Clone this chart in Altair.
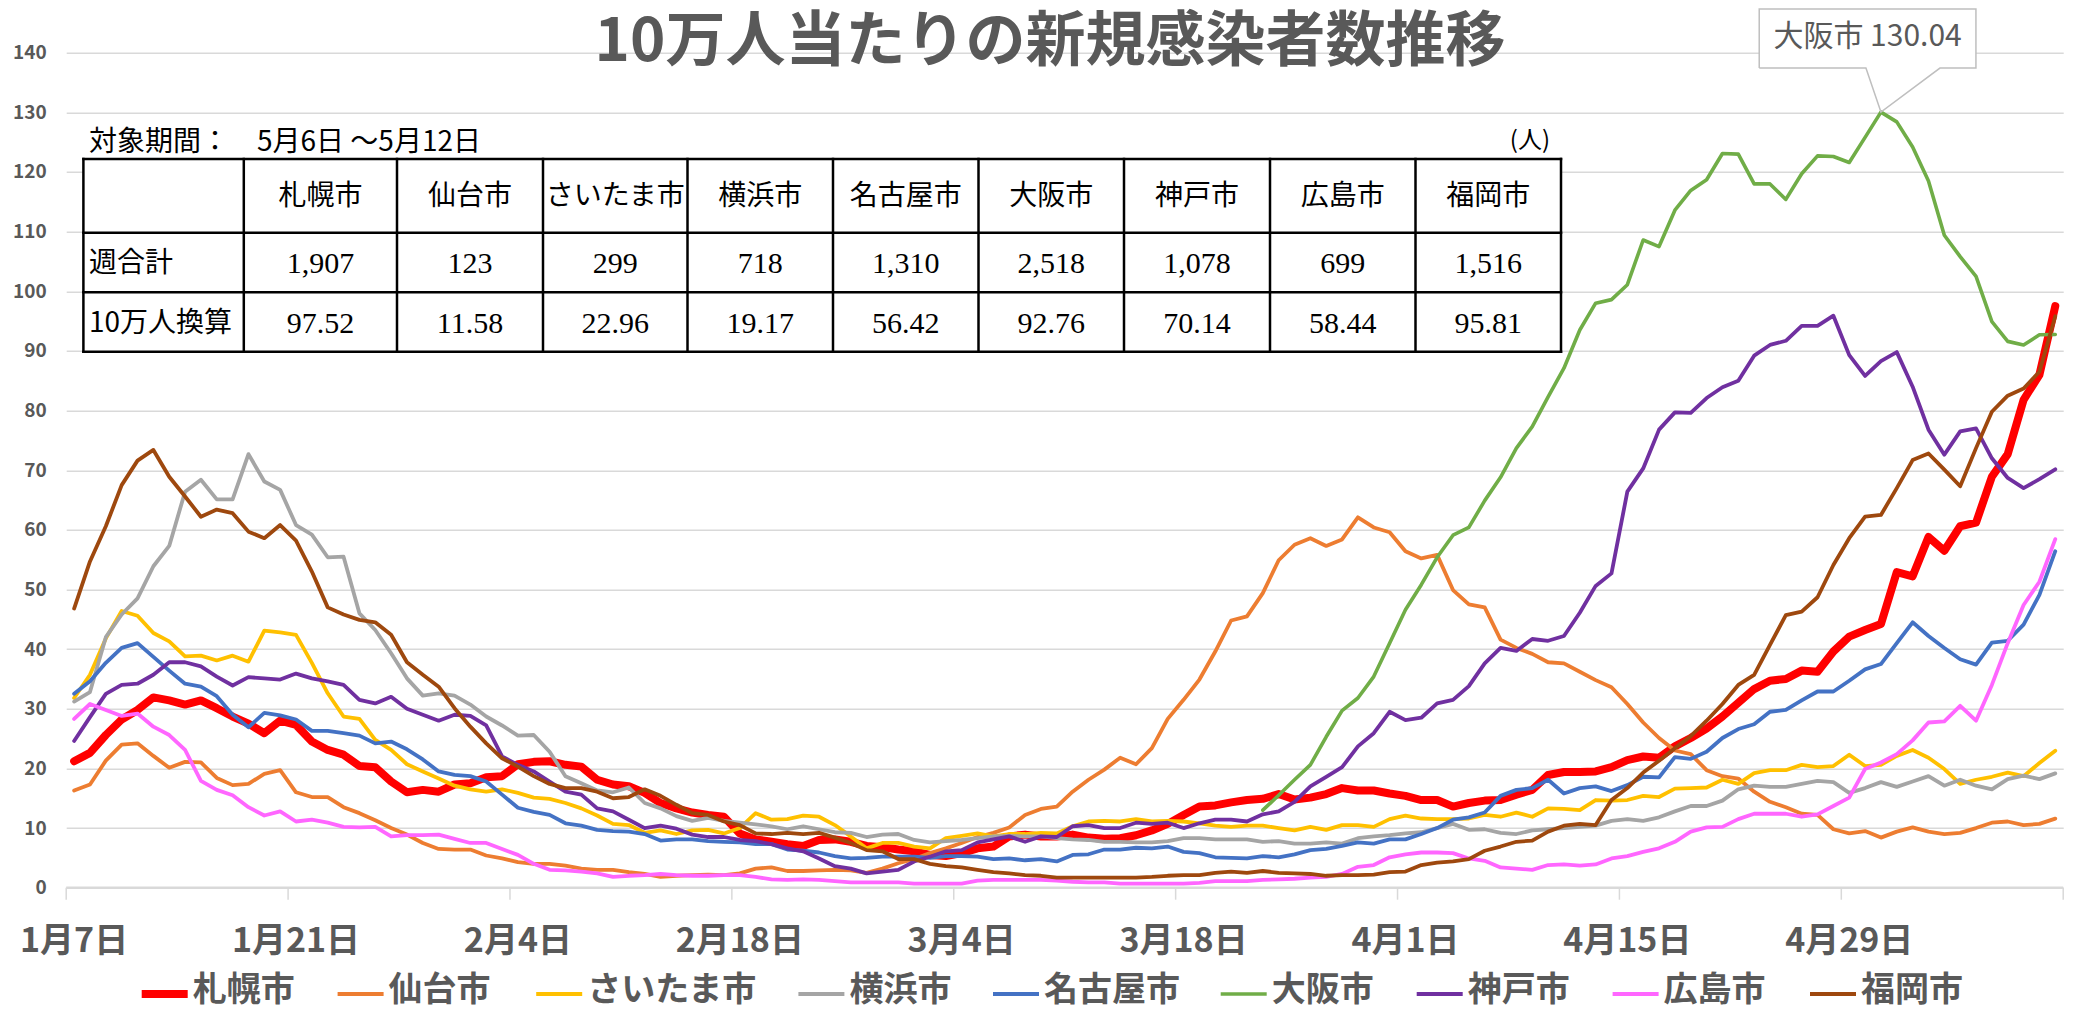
import altair as alt
import pandas as pd

# ---------------- data ----------------
TITLE = "10万人当たりの新規感染者数推移"
CITIES = ["札幌市", "仙台市", "さいたま市", "横浜市", "名古屋市", "大阪市", "神戸市", "広島市", "福岡市"]
COLORS = ["#FF0000", "#ED7D31", "#FFC000", "#A5A5A5", "#4472C4", "#70AD47", "#7030A0", "#FF66FF", "#9E480E"]
LINE_WIDTHS = [8, 3.8, 3.8, 3.8, 3.8, 3.6, 3.8, 3.8, 3.8]

N_DAYS = 126  # 1月7日 .. 5月12日
TICK_DAYS = [0, 14, 28, 42, 56, 70, 84, 98, 112]
TICK_LABELS = ["1月7日", "1月21日", "2月4日", "2月18日", "3月4日", "3月18日", "4月1日", "4月15日", "4月29日"]
Y_TICKS = [0, 10, 20, 30, 40, 50, 60, 70, 80, 90, 100, 110, 120, 130, 140]

SAPPORO = [21.2, 22.6, 25.6, 28.2, 29.8, 31.9, 31.4, 30.7, 31.4, 30.1, 28.7, 27.5, 25.9, 28.0, 27.3, 24.5,
           23.1, 22.3, 20.4, 20.2, 17.8, 16.0, 16.4, 16.1, 17.3, 17.5, 18.5, 18.7, 20.7, 21.1, 21.2, 20.6,
           20.3, 18.1, 17.3, 17.0, 15.9, 14.2, 13.3, 12.6, 12.2, 11.9, 9.1, 8.1, 7.7, 7.3, 7.0, 8.0,
           8.1, 7.7, 7.0, 6.8, 6.4, 6.1, 5.5, 5.3, 5.8, 6.6, 6.9, 8.6, 8.9, 8.6, 8.6, 8.9, 8.4, 8.2,
           8.3, 8.8, 9.6, 10.7, 12.2, 13.6, 13.8, 14.3, 14.7, 14.9, 15.7, 14.8, 15.1, 15.7, 16.7, 16.3,
           16.3, 15.8, 15.4, 14.7, 14.7, 13.6, 14.2, 14.6, 14.7, 15.6, 16.4, 18.9, 19.4, 19.4, 19.5, 20.2,
           21.4, 22.0, 21.8, 23.7, 25.1, 26.7, 28.7, 31.0, 33.3, 34.7, 35.0, 36.4, 36.2, 39.6, 42.1, 43.2,
           44.2, 52.9, 52.2, 58.8, 56.5, 60.6, 61.2, 68.9, 72.7, 81.8, 86.0, 97.52]
SENDAI = [16.3, 17.3, 21.3, 24.0, 24.2, 22.1, 20.1, 21.1, 21.0, 18.4, 17.2, 17.4, 19.1, 19.7, 16.0, 15.2,
          15.2, 13.5, 12.5, 11.3, 10.0, 8.9, 7.5, 6.5, 6.4, 6.4, 5.4, 4.9, 4.3, 4.0, 4.0, 3.7,
          3.2, 3.0, 3.0, 2.6, 2.3, 1.8, 2.0, 2.1, 2.2, 2.1, 2.4, 3.2, 3.4, 2.8, 2.8, 2.9,
          3.0, 2.9, 2.5, 3.2, 4.1, 4.8, 5.8, 6.6, 7.5, 8.5, 9.2, 10.1, 12.2, 13.2, 13.6, 16.1, 18.1, 19.8,
          21.8, 20.7, 23.4, 28.3, 31.5, 34.9, 39.6, 44.8, 45.5, 49.4, 54.9, 57.5, 58.6, 57.3, 58.4, 62.1,
          60.4, 59.6, 56.4, 55.2, 55.8, 49.9, 47.5, 47.0, 41.6, 40.2, 39.2, 37.8, 37.6, 36.2, 34.8, 33.6,
          30.8, 27.7, 25.1, 23.0, 22.4, 19.7, 18.7, 18.3, 16.1, 14.4, 13.5, 12.4, 12.2, 9.8, 9.1, 9.5,
          8.4, 9.4, 10.1, 9.4, 9.0, 9.2, 10.0, 10.9, 11.1, 10.5, 10.7, 11.58]
SAITAMA = [31.8, 35.7, 41.8, 46.4, 45.6, 42.7, 41.3, 38.8, 38.9, 38.1, 38.9, 37.9, 43.1, 42.8, 42.4, 37.7,
           32.6, 28.7, 28.3, 24.8, 23.1, 20.7, 19.5, 18.3, 17.1, 16.5, 16.1, 16.5, 15.9, 15.1, 14.9, 14.2,
           13.3, 12.1, 10.7, 10.5, 9.2, 9.6, 9.0, 9.6, 9.7, 9.1, 10.0, 12.5, 11.4, 11.5, 12.1, 11.9,
           10.5, 8.6, 6.6, 7.5, 7.5, 6.9, 6.6, 8.3, 8.7, 9.1, 8.6, 9.0, 9.0, 9.2, 9.1, 10.3, 11.1, 11.2,
           11.1, 11.5, 11.1, 11.2, 11.1, 10.8, 10.4, 10.2, 10.4, 10.4, 10.0, 9.6, 10.2, 9.7, 10.5, 10.5,
           10.2, 11.5, 12.1, 11.6, 11.5, 11.5, 11.6, 12.2, 11.9, 12.6, 11.9, 13.3, 13.2, 13.0, 14.7, 14.6,
           14.7, 15.4, 15.2, 16.6, 16.7, 16.8, 18.1, 17.4, 19.2, 19.7, 19.7, 20.6, 20.2, 20.4, 22.3, 20.4,
           20.6, 22.1, 23.1, 21.8, 19.9, 17.4, 18.1, 18.6, 19.3, 18.7, 20.9, 22.96]
YOKOHAMA = [31.2, 32.8, 42.0, 45.8, 48.5, 53.9, 57.3, 66.4, 68.4, 65.1, 65.1, 72.7, 68.1, 66.7, 60.8, 59.2,
            55.4, 55.5, 46.0, 43.2, 39.3, 35.1, 32.2, 32.6, 32.2, 30.7, 28.7, 27.2, 25.5, 25.6, 22.8, 18.7,
            17.5, 16.3, 16.0, 16.8, 14.2, 13.3, 12.0, 11.2, 11.7, 11.2, 10.9, 10.6, 10.3, 9.8, 10.3, 9.8,
            9.3, 9.2, 8.5, 8.9, 9.0, 8.0, 7.6, 7.8, 8.0, 8.3, 8.6, 8.7, 8.6, 8.6, 8.3, 8.1, 8.0, 7.7,
            7.7, 7.6, 7.6, 7.8, 8.3, 8.3, 8.1, 8.1, 8.1, 7.7, 7.8, 7.4, 7.4, 7.6, 7.4, 8.3,
            8.6, 8.8, 9.1, 9.3, 10.0, 10.7, 9.7, 9.8, 9.2, 9.0, 9.6, 9.8, 10.0, 10.2, 10.4, 11.2,
            11.5, 11.2, 11.8, 12.8, 13.7, 13.7, 14.6, 16.5, 17.1, 16.9, 16.9, 17.4, 17.9, 17.7, 15.9, 16.7,
            17.7, 16.9, 17.8, 18.7, 17.1, 18.1, 17.1, 16.5, 18.2, 18.8, 18.2, 19.17]
NAGOYA = [32.5, 34.6, 37.7, 40.2, 41.0, 38.7, 36.4, 34.2, 33.7, 32.1, 29.0, 26.9, 29.3, 28.9, 28.2, 26.3,
          26.3, 25.9, 25.5, 24.2, 24.5, 23.2, 21.5, 19.5, 18.9, 18.7, 17.8, 15.6, 13.4, 12.7, 12.2, 10.8,
          10.4, 9.7, 9.5, 9.4, 9.0, 7.9, 8.1, 8.1, 7.8, 7.7, 7.6, 7.3, 7.3, 6.4, 6.2, 5.9,
          5.3, 4.9, 5.0, 5.2, 5.2, 5.2, 5.0, 5.3, 5.3, 5.2, 4.8, 4.9, 4.6, 4.8, 4.4, 5.5, 5.6, 6.4,
          6.4, 6.7, 6.6, 6.9, 6.0, 5.8, 5.1, 5.0, 4.9, 5.3, 5.1, 5.6, 6.3, 6.5, 7.0, 7.6,
          7.4, 8.1, 8.1, 9.0, 10.0, 11.4, 11.8, 12.6, 15.4, 16.4, 16.7, 18.1, 15.8, 16.7, 17.0, 16.2,
          17.2, 18.6, 18.5, 21.9, 21.6, 22.8, 25.1, 26.6, 27.4, 29.5, 29.8, 31.4, 32.9, 32.9, 34.7, 36.6,
          37.5, 41.0, 44.5, 42.2, 40.2, 38.3, 37.4, 41.1, 41.4, 44.1, 49.1, 56.42]
OSAKA = [None] * 75 + [
         13.0, 15.5, 18.1, 20.6, 25.3, 29.7, 31.8, 35.4, 41.0, 46.6, 50.8, 55.4, 59.1, 60.4, 64.9, 68.8,
         73.7, 77.3, 82.3, 87.1, 93.5, 98.0, 98.6, 101.1, 108.6, 107.5, 113.6, 116.9, 118.7, 123.1, 123.0, 118.0,
         118.0, 115.4, 119.7, 122.7, 122.6, 121.6, 125.8, 130.04, 128.4, 124.2, 118.5, 109.4, 105.8, 102.5, 94.9, 91.6,
         91.0, 92.7, 92.76]
KOBE = [24.6, 28.6, 32.5, 34.0, 34.2, 35.7, 37.8, 37.8, 37.1, 35.4, 33.9, 35.3, 35.1, 34.9, 35.9, 35.1,
        34.6, 34.0, 31.5, 30.9, 32.0, 30.0, 29.0, 28.0, 29.0, 28.8, 27.2, 22.0, 20.6, 19.5, 17.8, 16.1,
        15.6, 13.3, 12.8, 11.4, 10.0, 10.4, 9.9, 8.9, 8.5, 8.5, 8.0, 7.8, 7.3, 6.6, 6.1, 4.9,
        3.6, 3.2, 2.4, 2.7, 3.0, 4.4, 5.2, 6.1, 6.3, 7.6, 8.1, 8.6, 7.7, 8.6, 8.5, 10.3, 10.5, 10.0,
        10.0, 10.9, 10.7, 10.9, 10.0, 10.8, 11.4, 11.4, 11.1, 12.3, 12.8, 14.4, 17.0, 18.6, 20.2, 23.7,
        25.9, 29.5, 28.1, 28.5, 30.9, 31.5, 33.8, 37.6, 40.2, 39.7, 41.7, 41.4, 42.2, 46.1, 50.6, 52.7,
        66.4, 70.3, 76.8, 79.7, 79.6, 82.1, 83.9, 85.0, 89.2, 91.0, 91.7, 94.2, 94.2, 95.9, 89.3, 85.8,
        88.3, 89.8, 84.0, 76.8, 72.6, 76.5, 77.0, 72.0, 68.7, 67.0, 68.5, 70.14]
HIROSHIMA = [28.3, 30.8, 29.8, 28.8, 29.2, 27.0, 25.6, 23.1, 17.9, 16.4, 15.5, 13.5, 12.1, 12.8, 11.1, 11.4,
             10.9, 10.2, 10.1, 10.2, 8.6, 8.8, 8.8, 8.9, 8.2, 7.5, 7.5, 6.5, 5.5, 4.0, 3.0, 2.9,
             2.7, 2.4, 1.8, 2.0, 2.1, 2.3, 2.1, 2.0, 2.0, 2.1, 2.1, 1.8, 1.4, 1.3, 1.4, 1.3,
             1.1, 0.9, 0.9, 0.9, 0.9, 0.7, 0.7, 0.7, 0.7, 1.2, 1.3, 1.3, 1.3, 1.3, 1.2, 1.0, 0.9, 0.9,
             0.7, 0.7, 0.7, 0.7, 0.7, 0.8, 1.1, 1.1, 1.1, 1.3, 1.4, 1.5, 1.7, 1.8, 2.3, 3.5,
             3.8, 5.1, 5.6, 5.9, 5.9, 5.8, 4.9, 4.5, 3.4, 3.2, 3.0, 3.8, 3.9, 3.7, 3.9, 4.9,
             5.3, 6.0, 6.6, 7.7, 9.4, 10.1, 10.2, 11.5, 12.4, 12.4, 12.4, 11.9, 12.3, 13.7, 15.1, 19.9,
             21.0, 22.4, 24.7, 27.7, 27.9, 30.5, 28.0, 34.0, 41.0, 47.4, 51.3, 58.44]
FUKUOKA = [46.8, 54.7, 60.6, 67.5, 71.6, 73.4, 68.9, 65.6, 62.2, 63.4, 62.8, 59.7, 58.6, 60.8, 58.2, 53.0,
           47.0, 45.8, 44.9, 44.5, 42.4, 37.8, 35.7, 33.7, 30.1, 27.0, 24.2, 21.7, 20.3, 18.7, 17.4, 16.7,
           16.7, 16.1, 15.0, 15.2, 16.5, 15.4, 13.9, 12.5, 12.2, 11.1, 10.5, 9.1, 9.0, 9.2, 9.0, 9.2,
           8.4, 7.5, 6.3, 6.1, 4.8, 4.8, 4.0, 3.6, 3.4, 3.0, 2.6, 2.4, 2.1, 2.0, 1.7, 1.7, 1.7, 1.7,
           1.7, 1.7, 1.8, 2.0, 2.1, 2.1, 2.5, 2.7, 2.5, 2.8, 2.5, 2.4, 2.3, 2.0, 2.1, 2.1,
           2.2, 2.6, 2.7, 3.8, 4.2, 4.4, 4.8, 6.2, 6.9, 7.7, 7.9, 9.4, 10.4, 10.7, 10.5, 14.7,
           16.7, 19.3, 21.3, 23.4, 25.4, 28.0, 30.8, 34.0, 35.7, 40.7, 45.7, 46.3, 48.7, 54.1, 58.6, 62.2,
           62.5, 67.0, 71.7, 72.8, 70.1, 67.3, 73.7, 79.8, 82.5, 83.7, 86.5, 95.81]

SERIES = [SAPPORO, SENDAI, SAITAMA, YOKOHAMA, NAGOYA, OSAKA, KOBE, HIROSHIMA, FUKUOKA]

PERIOD_TEXT = "対象期間：　5月6日 ～5月12日"
UNIT_TEXT = "(人)"
ROW_HEADERS = ["週合計", "10万人換算"]
WEEKLY_TOTALS = ["1,907", "123", "299", "718", "1,310", "2,518", "1,078", "699", "1,516"]
PER_100K = ["97.52", "11.58", "22.96", "19.17", "56.42", "92.76", "70.14", "58.44", "95.81"]

PEAK_CITY = "大阪市"
PEAK_DAY = 114
PEAK_VALUE = 130.04

# ---------------- layout / style ----------------
FONT = "Noto Sans CJK JP"
SERIF = "Liberation Serif, Noto Sans CJK JP"
GRAY = "#595959"
GRID = "#D9D9D9"
W, H = 1997, 835
LEFT, TOP = 66.2, 52.7          # page position of the plot origin
PAD = {"left": LEFT - 8, "top": TOP - 8, "right": 2060 - (LEFT - 8) - W, "bottom": 1008 - (TOP - 8) - H}
PX_DAY = W / N_DAYS
PX_UNIT = H / 140.0

TABLE_COLS = [83.4, 243.8, 397, 543, 687.5, 833, 978.5, 1124, 1270, 1415.5, 1561]
TABLE_ROWS = [159, 232.7, 292.3, 351.7]
LEGEND_X = [141.7, 337.6, 536.2, 798.4, 993, 1220.7, 1416.7, 1612.6, 1810]   # page x of legend symbols
LEGEND_Y = 991
LEGEND_SYMBOL = 46


def px(X):
    return X - LEFT


def py(Y):
    return Y - TOP


rows = []
for city, vals in zip(CITIES, SERIES):
    assert len(vals) == N_DAYS, city
    for d, v in enumerate(vals):
        if v is not None:
            rows.append({"city": city, "x": d + 0.5, "value": v})
df = pd.DataFrame(rows)

xscale = alt.Scale(domain=[0, N_DAYS], nice=False, zero=False)
yscale = alt.Scale(domain=[0, 140], nice=False, zero=True)
Y_AXIS = alt.Axis(values=Y_TICKS, title=None, grid=True, gridColor=GRID, gridWidth=1.5,
                  domain=False, ticks=False, tickSize=0, labelPadding=20, labelFont=FONT,
                  labelFontSize=19, labelFontWeight="bold", labelColor=GRAY)
COLOR = alt.Color("city:N", scale=alt.Scale(domain=CITIES, range=COLORS), legend=None)
X = alt.X("x:Q", scale=xscale, axis=None)

baseline = alt.Chart(pd.DataFrame({"v": [0]})).mark_rule(color=GRID, strokeWidth=2.5).encode(
    y=alt.Y("v:Q", scale=yscale, axis=Y_AXIS), x=alt.value(0), x2=alt.value(W))

ticks = alt.Chart(pd.DataFrame({"x": TICK_DAYS + [N_DAYS]})).mark_rule(color=GRID, strokeWidth=1.5).encode(
    x=X, y=alt.value(H), y2=alt.value(H + 12))

xlabels = alt.Chart(pd.DataFrame({"x": [d + 0.5 for d in TICK_DAYS], "label": TICK_LABELS})).mark_text(
    font=FONT, fontSize=34, fontWeight="bold", color=GRAY, align="center", baseline="middle").encode(
    x=X, y=alt.value(py(942)), text="label:N")

series_layers = []
for city, w in zip(CITIES, LINE_WIDTHS):
    series_layers.append(
        alt.Chart(df).transform_filter(alt.datum.city == city).mark_line(
            strokeWidth=w, strokeJoin="round", strokeCap="round").encode(
            x=X, y=alt.Y("value:Q", scale=yscale, axis=Y_AXIS), color=COLOR, order="x:Q")
    )

# annotation (callout anchored to the peak point)
ax = PEAK_DAY + 0.5


def dday(p):
    return p / PX_DAY


def dval(p):
    return -p / PX_UNIT


BOX_L, BOX_R, BOX_T, BOX_B, BASE1, BASE2 = -121.7, 95.0, -103.0, -44.0, -15.0, 59.0
box_df = pd.DataFrame([{"x": ax + dday(BOX_L), "x2": ax + dday(BOX_R),
                        "v": PEAK_VALUE + dval(BOX_T), "v2": PEAK_VALUE + dval(BOX_B)}])
box = alt.Chart(box_df).mark_rect(fill="white").encode(
    x=alt.X("x:Q", scale=xscale, axis=None), x2="x2:Q",
    y=alt.Y("v:Q", scale=yscale, axis=Y_AXIS), y2="v2:Q")
outline_pts = [(BOX_L, BOX_B), (BOX_L, BOX_T), (BOX_R, BOX_T), (BOX_R, BOX_B), (BASE2, BOX_B),
               (0, 0), (BASE1, BOX_B), (BOX_L, BOX_B)]
outline_df = pd.DataFrame([{"i": i, "x": ax + dday(a), "v": PEAK_VALUE + dval(b)}
                           for i, (a, b) in enumerate(outline_pts)])
outline = alt.Chart(outline_df).mark_line(color="#BFBFBF", strokeWidth=1.5, strokeJoin="miter").encode(
    x=alt.X("x:Q", scale=xscale, axis=None), y=alt.Y("v:Q", scale=yscale, axis=Y_AXIS), order="i:Q")
label_df = pd.DataFrame([{"x": ax + dday(-13.4), "v": PEAK_VALUE + dval(-74.7),
                          "label": f"{PEAK_CITY} {PEAK_VALUE:.2f}"}])
peak_label = alt.Chart(label_df).mark_text(font=FONT, fontSize=30, color=GRAY, align="center",
                                           baseline="middle").encode(
    x=alt.X("x:Q", scale=xscale, axis=None), y=alt.Y("v:Q", scale=yscale, axis=Y_AXIS), text="label:N")

main = alt.layer(baseline, ticks, *series_layers, box, outline, peak_label, xlabels)

# ---------------- overlay: title, table and legend (pixel positions) ----------------
PXX = lambda f: alt.X(f, scale=None, axis=None)
PXY = lambda f: alt.Y(f, scale=None, axis=None)

table_bg = alt.Chart(pd.DataFrame([{"a": px(TABLE_COLS[0]), "b": px(TABLE_COLS[-1]),
                                    "c": py(TABLE_ROWS[0]), "d": py(TABLE_ROWS[-1])}])).mark_rect(
    fill="white").encode(x=PXX("a:Q"), x2="b:Q", y=PXY("c:Q"), y2="d:Q")

lines = []
for Yr in TABLE_ROWS:
    lines.append({"a": px(TABLE_COLS[0]), "b": px(TABLE_COLS[-1]), "c": py(Yr), "d": py(Yr)})
for Xc in TABLE_COLS:
    lines.append({"a": px(Xc), "b": px(Xc), "c": py(TABLE_ROWS[0]), "d": py(TABLE_ROWS[-1])})
table_lines = alt.Chart(pd.DataFrame(lines)).mark_rule(color="black", strokeWidth=2.5,
                                                        strokeCap="square").encode(
    x=PXX("a:Q"), x2="b:Q", y=PXY("c:Q"), y2="d:Q")


def text_layer(records, **mark):
    return alt.Chart(pd.DataFrame(records)).mark_text(**mark).encode(
        x=PXX("px:Q"), y=PXY("py:Q"), text="text:N")


centers = [(TABLE_COLS[i] + TABLE_COLS[i + 1]) / 2 for i in range(1, len(TABLE_COLS) - 1)]
ROW_Y = [197, 264, 324]

headers = text_layer([{"px": px(c), "py": py(ROW_Y[0]), "text": t} for c, t in zip(centers, CITIES)],
                     font=FONT, fontSize=28, color="black", align="center", baseline="middle")
row_heads = text_layer([{"px": px(89), "py": py(ROW_Y[k + 1]), "text": t} for k, t in enumerate(ROW_HEADERS)],
                       font=FONT, fontSize=28, color="black", align="left", baseline="middle")
nums = text_layer([{"px": px(c), "py": py(ROW_Y[1]), "text": t} for c, t in zip(centers, WEEKLY_TOTALS)] +
                  [{"px": px(c), "py": py(ROW_Y[2]), "text": t} for c, t in zip(centers, PER_100K)],
                  font=SERIF, fontSize=30, color="black", align="center", baseline="middle")
period = text_layer([{"px": px(89), "py": py(143), "text": PERIOD_TEXT}],
                    font=FONT, fontSize=28, color="black", align="left", baseline="middle")
unit = text_layer([{"px": px(1550), "py": py(141), "text": UNIT_TEXT}],
                  font=FONT, fontSize=24, color="black", align="right", baseline="middle")
title = text_layer([{"px": px(1050), "py": py(61), "text": TITLE}],
                   font=FONT, fontSize=60, fontWeight="bold", color=GRAY, align="center",
                   baseline="alphabetic")

leg_df = pd.DataFrame([{"city": c, "a": px(x0), "b": px(x0 + LEGEND_SYMBOL), "y": py(LEGEND_Y + 3),
                        "w": w, "tx": px(x0 + LEGEND_SYMBOL + 5), "ty": py(LEGEND_Y)}
                       for c, x0, w in zip(CITIES, LEGEND_X, LINE_WIDTHS)])
leg_symbols = alt.Chart(leg_df).mark_rule(strokeCap="butt").encode(
    x=PXX("a:Q"), x2="b:Q", y=PXY("y:Q"), color=COLOR,
    strokeWidth=alt.StrokeWidth("w:Q", scale=None, legend=None))
leg_labels = alt.Chart(leg_df).mark_text(font=FONT, fontSize=34, fontWeight="bold", color=GRAY,
                                         align="left", baseline="middle").encode(
    x=PXX("tx:Q"), y=PXY("ty:Q"), text="city:N")

overlay = alt.layer(table_bg, table_lines, headers, row_heads, nums, period, unit, title,
                    leg_symbols, leg_labels)

chart = alt.layer(main, overlay).resolve_scale(x="independent", y="independent").properties(
    width=W, height=H, padding=PAD, autosize=alt.AutoSizeParams(type="none"),
    background="white").configure_view(stroke=None)

chart.save("out.html", embed_options={"renderer": "svg", "actions": False})
